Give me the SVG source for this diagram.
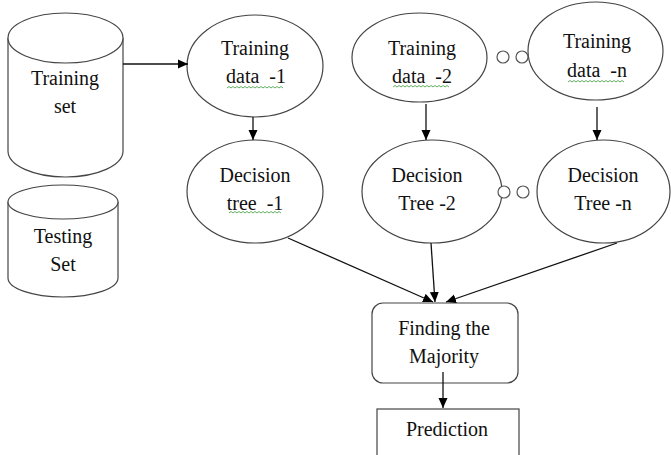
<svg xmlns="http://www.w3.org/2000/svg" width="671" height="455" viewBox="0 0 671 455">
<defs>
<marker id="ah" markerWidth="10" markerHeight="10" refX="10" refY="5" orient="auto" markerUnits="userSpaceOnUse">
<path d="M0,0.5 L10,5 L0,9.5 Z" fill="#000"/>
</marker>
<style>
.sh{fill:#fff;stroke:#444;stroke-width:1.2}
.t{font-family:"Liberation Serif","Times New Roman",serif;font-size:20px;fill:#111;text-anchor:middle;white-space:pre}
.c{fill:none;stroke:#111;stroke-width:1.3;marker-end:url(#ah)}
.sq{fill:none;stroke:#3a9a3a;stroke-width:0.8}
.dot{fill:#fff;stroke:#555;stroke-width:1.2}
</style>
</defs>
<rect width="671" height="455" fill="#fff"/>

<g id="training-set">
<path class="sh" d="M8,38 L8,151 A57.5,26 0 0 0 123,151 L123,38"/>
<ellipse class="sh" cx="65.5" cy="38" rx="57.5" ry="25"/>
<text class="t" x="65" y="85">Training</text>
<text class="t" x="65" y="113">set</text>
</g>

<g id="testing-set">
<path class="sh" d="M8,202 L8,278 A55,19 0 0 0 118,278 L118,202"/>
<ellipse class="sh" cx="63" cy="202" rx="55" ry="17"/>
<text class="t" x="63" y="243">Testing</text>
<text class="t" x="63" y="271">Set</text>
</g>

<g id="training-data-1">
<ellipse class="sh" cx="255" cy="66" rx="68" ry="51"/>
<text class="t" x="255" y="55">Training</text>
<text class="t" x="256" y="83" xml:space="preserve">data  -1</text>
<path class="sq" d="M227,88 l2,-1.5 l2,1.5 l2,-1.5 l2,1.5 l2,-1.5 l2,1.5 l2,-1.5 l2,1.5 l2,-1.5 l2,1.5 l2,-1.5 l2,1.5 l2,-1.5 l2,1.5 l2,-1.5 l2,1.5 l2,-1.5 l2,1.5 l2,-1.5 l2,1.5 l2,-1.5 l2,1.5 l2,-1.5 l2,1.5 l2,-1.5 l2,1.5 l2,-1.5 l2,1.5"/>
</g>

<g id="decision-tree-1">
<ellipse class="sh" cx="255" cy="191.5" rx="68" ry="51.5"/>
<text class="t" x="255" y="182">Decision</text>
<text class="t" x="255" y="210" xml:space="preserve">tree  -1</text>
<path class="sq" d="M229,213 l2,-1.5 l2,1.5 l2,-1.5 l2,1.5 l2,-1.5 l2,1.5 l2,-1.5 l2,1.5 l2,-1.5 l2,1.5 l2,-1.5 l2,1.5 l2,-1.5 l2,1.5 l2,-1.5 l2,1.5 l2,-1.5 l2,1.5 l2,-1.5 l2,1.5 l2,-1.5 l2,1.5 l2,-1.5 l2,1.5 l2,-1.5 l2,1.5"/>
</g>

<g id="training-data-2">
<ellipse class="sh" cx="419.5" cy="57.5" rx="67.5" ry="44.5"/>
<text class="t" x="422" y="55">Training</text>
<text class="t" x="422" y="83" xml:space="preserve">data  -2</text>
<path class="sq" d="M393,87 l2,-1.5 l2,1.5 l2,-1.5 l2,1.5 l2,-1.5 l2,1.5 l2,-1.5 l2,1.5 l2,-1.5 l2,1.5 l2,-1.5 l2,1.5 l2,-1.5 l2,1.5 l2,-1.5 l2,1.5 l2,-1.5 l2,1.5 l2,-1.5 l2,1.5 l2,-1.5 l2,1.5 l2,-1.5 l2,1.5 l2,-1.5 l2,1.5 l2,-1.5 l2,1.5"/>
</g>

<g id="training-data-n">
<ellipse class="sh" cx="595.5" cy="51" rx="67.5" ry="49"/>
<text class="t" x="597" y="48">Training</text>
<text class="t" x="597" y="77" xml:space="preserve">data  -n</text>
<path class="sq" d="M568,82 l2,-1.5 l2,1.5 l2,-1.5 l2,1.5 l2,-1.5 l2,1.5 l2,-1.5 l2,1.5 l2,-1.5 l2,1.5 l2,-1.5 l2,1.5 l2,-1.5 l2,1.5 l2,-1.5 l2,1.5 l2,-1.5 l2,1.5 l2,-1.5 l2,1.5 l2,-1.5 l2,1.5 l2,-1.5 l2,1.5 l2,-1.5 l2,1.5 l2,-1.5 l2,1.5"/>
</g>

<g id="ellipsis-top">
<circle class="dot" cx="503" cy="57" r="6"/>
<circle class="dot" cx="522" cy="57" r="6"/>
</g>

<g id="decision-tree-2">
<ellipse class="sh" cx="432" cy="191.5" rx="70" ry="51.5"/>
<text class="t" x="427" y="182">Decision</text>
<text class="t" x="427" y="210">Tree -2</text>
</g>

<g id="decision-tree-n">
<ellipse class="sh" cx="603.5" cy="191.5" rx="66.5" ry="51.5"/>
<text class="t" x="603" y="182">Decision</text>
<text class="t" x="603" y="210">Tree -n</text>
</g>

<g id="ellipsis-bottom">
<circle class="dot" cx="504" cy="192" r="6"/>
<circle class="dot" cx="523" cy="192" r="6"/>
</g>

<g id="finding-majority">
<rect class="sh" x="372" y="303" width="146" height="80" rx="11" ry="11"/>
<text class="t" x="444" y="335">Finding the</text>
<text class="t" x="444" y="363">Majority</text>
</g>

<g id="prediction">
<rect class="sh" x="377" y="409" width="142" height="60" stroke="#222"/>
<text class="t" x="447" y="436">Prediction</text>
</g>

<g id="connectors">
<line class="c" x1="123" y1="64" x2="188" y2="64"/>
<line class="c" x1="253" y1="117" x2="253" y2="140"/>
<line class="c" x1="426" y1="104" x2="426" y2="140"/>
<line class="c" x1="597" y1="107" x2="597" y2="140"/>
<line class="c" x1="288" y1="238" x2="433" y2="302"/>
<line class="c" x1="431" y1="243" x2="435" y2="302"/>
<line class="c" x1="617" y1="243" x2="446" y2="302"/>
<line class="c" x1="443" y1="372" x2="443" y2="408"/>
</g>
</svg>
